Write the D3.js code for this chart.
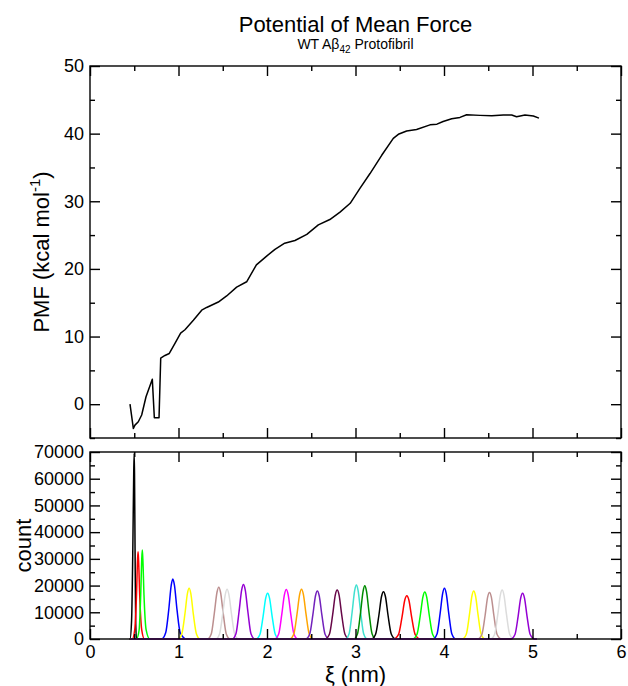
<!DOCTYPE html>
<html>
<head>
<meta charset="utf-8">
<script src="https://cdn.jsdelivr.net/npm/d3@7"></script>
<style>
  body { margin: 0; background: #fff; }
  svg { font-family: "Liberation Sans", Arial, sans-serif; }
</style>
</head>
<body>
<div id="chart"></div>
<script>
let width = 628,
    height = 686;

// ----- DATA -----
// PMF curve (nm, kcal/mol)
let pmfX = [0.452, 0.49, 0.508, 0.546, 0.584, 0.633, 0.704, 0.727, 0.78, 0.799, 0.847, 0.896,
            0.96, 1.024, 1.073, 1.168, 1.262, 1.318, 1.45, 1.544, 1.657, 1.77, 1.88, 1.996,
            2.09, 2.20, 2.316, 2.45, 2.58, 2.71, 2.825, 2.94, 3.05, 3.164, 3.296, 3.427,
            3.484, 3.578, 3.69, 3.842, 3.92, 3.99, 4.087, 4.18, 4.256, 4.407, 4.54, 4.67,
            4.765, 4.82, 4.915, 5.01, 5.073];
let pmfY = [0.0, -3.6, -3.1, -2.6, -1.6, 1.1, 3.7, -2.0, -2.0, 6.8, 7.2, 7.5,
            9.0, 10.5, 11.0, 12.4, 13.9, 14.3, 15.1, 16.0, 17.3, 18.1, 20.6, 21.9,
            22.9, 23.8, 24.2, 25.1, 26.5, 27.3, 28.4, 29.7, 31.9, 34.1, 36.8, 39.3,
            39.9, 40.4, 40.6, 41.3, 41.4, 41.8, 42.2, 42.4, 42.8, 42.7, 42.65, 42.75,
            42.75, 42.5, 42.75, 42.6, 42.3];

// umbrella window histograms: [xi, count]
let histograms = [
  [[0.452,0],[0.470,7000],[0.484,34000],[0.494,62000],[0.499,69500],[0.503,62000],[0.509,34000],[0.516,7000],[0.525,0]],
  [[0.478,0],[0.505,3300],[0.525,16000],[0.537,29500],[0.543,32700],[0.549,29500],[0.562,16000],[0.585,3300],[0.615,0]],
  [[0.525,0],[0.555,3300],[0.573,16500],[0.585,30000],[0.591,33300],[0.597,30000],[0.610,16500],[0.635,3300],[0.675,0]],
  [[0.81,0],[0.855,2300],[0.89,11000],[0.918,20200],[0.936,22500],[0.954,20200],[0.983,11000],[1.02,2300],[1.09,0]],
  [[0.995,0],[1.037,1900],[1.073,9500],[1.101,17100],[1.120,19000],[1.139,17100],[1.167,9500],[1.203,1900],[1.245,0]],
  [[1.325,0],[1.37,1900],[1.405,9700],[1.435,17500],[1.455,19400],[1.475,17500],[1.505,9700],[1.54,1900],[1.585,0]],
  [[1.42,0],[1.464,1900],[1.499,9300],[1.529,16700],[1.549,18600],[1.569,16700],[1.599,9300],[1.634,1900],[1.68,0]],
  [[1.605,0],[1.649,2000],[1.684,10200],[1.714,18400],[1.734,20400],[1.754,18400],[1.784,10200],[1.819,2000],[1.865,0]],
  [[1.875,0],[1.92,1700],[1.956,8500],[1.986,15400],[2.007,17100],[2.028,15400],[2.058,8500],[2.094,1700],[2.14,0]],
  [[2.085,0],[2.131,1800],[2.167,9200],[2.197,16600],[2.218,18500],[2.239,16600],[2.269,9200],[2.305,1800],[2.35,0]],
  [[2.255,0],[2.303,1900],[2.339,9300],[2.369,16700],[2.390,18600],[2.411,16700],[2.441,9300],[2.477,1900],[2.525,0]],
  [[2.435,0],[2.482,1800],[2.518,9000],[2.548,16200],[2.569,18000],[2.590,16200],[2.620,9000],[2.656,1800],[2.705,0]],
  [[2.655,0],[2.705,1800],[2.742,9100],[2.772,16500],[2.793,18300],[2.814,16500],[2.844,9100],[2.881,1800],[2.93,0]],
  [[2.885,0],[2.928,2000],[2.962,10100],[2.991,18200],[3.010,20200],[3.029,18200],[3.058,10100],[3.092,2000],[3.135,0]],
  [[2.98,0],[3.023,2000],[3.057,9900],[3.086,17900],[3.105,19900],[3.124,17900],[3.153,9900],[3.187,2000],[3.23,0]],
  [[3.18,0],[3.227,1800],[3.264,8800],[3.294,15900],[3.316,17700],[3.338,15900],[3.368,8800],[3.405,1800],[3.455,0]],
  [[3.43,0],[3.485,1600],[3.525,8100],[3.557,14600],[3.580,16200],[3.603,14600],[3.635,8100],[3.675,1600],[3.73,0]],
  [[3.645,0],[3.695,1800],[3.732,8800],[3.762,15800],[3.783,17600],[3.804,15800],[3.834,8800],[3.871,1800],[3.92,0]],
  [[3.875,0],[3.921,1900],[3.956,9500],[3.985,17100],[4.005,19000],[4.025,17100],[4.054,9500],[4.089,1900],[4.135,0]],
  [[4.205,0],[4.252,1800],[4.287,9000],[4.316,16200],[4.336,18000],[4.356,16200],[4.385,9000],[4.42,1800],[4.465,0]],
  [[4.38,0],[4.428,1700],[4.464,8700],[4.493,15700],[4.514,17400],[4.535,15700],[4.564,8700],[4.60,1700],[4.65,0]],
  [[4.525,0],[4.572,1800],[4.608,9200],[4.637,16500],[4.657,18300],[4.677,16500],[4.706,9200],[4.742,1800],[4.79,0]],
  [[4.755,0],[4.802,1700],[4.838,8600],[4.867,15400],[4.888,17100],[4.909,15400],[4.938,8600],[4.974,1700],[5.025,0]]
];
let histRange = [0.45, 5.05];

// xmgrace default colour cycle
let histColors = ["#000000", "#ff0000", "#00ff00", "#0000ff", "#ffff00", "#bc8f8f", "#dcdcdc",
                  "#9400d3", "#00ffff", "#ff00ff", "#ffa500", "#7221bc", "#670748", "#40e0d0", "#008b00"];

let xTicks = [0, 1, 2, 3, 4, 5, 6];
let pmfTicks = [0, 10, 20, 30, 40, 50];
let countTicks = [0, 10000, 20000, 30000, 40000, 50000, 60000, 70000];

// ----- LAYOUT -----
let left = 90, right = 621;
let top1 = 66, bottom1 = 438;
let top2 = 452, bottom2 = 639;

let svg = d3.select("#chart")
            .append("svg")
            .attr("width", width)
            .attr("height", height);

// ----- SCALES -----
let xScale = d3.scaleLinear().domain([0, 6]).range([left, right]);
let yPmf = d3.scaleLinear().domain([-5, 50]).range([bottom1, top1]);
let yCount = d3.scaleLinear().domain([0, 70000]).range([bottom2, top2]);

// draw inward ticks on all four sides of a box
function drawAxes(y, yTop, yBottom, yMajor, yMinor, showX) {
    let major = 10, minor = 5;
    let xMinor = d3.range(0.5, 6, 1);

    let g = svg.append("g").attr("class", "axes");

    g.append("g")
        .attr("transform", `translate(0,${yBottom})`)
        .call(d3.axisBottom(xScale).tickValues(xTicks).tickSize(-major).tickSizeOuter(0)
              .tickPadding(6).tickFormat(showX ? d3.format("d") : ""));
    g.append("g")
        .attr("transform", `translate(0,${yBottom})`)
        .call(d3.axisBottom(xScale).tickValues(xMinor).tickSize(-minor).tickSizeOuter(0).tickFormat(""));
    g.append("g")
        .attr("transform", `translate(0,${yTop})`)
        .call(d3.axisTop(xScale).tickValues(xTicks).tickSize(-major).tickSizeOuter(0).tickFormat(""));
    g.append("g")
        .attr("transform", `translate(0,${yTop})`)
        .call(d3.axisTop(xScale).tickValues(xMinor).tickSize(-minor).tickSizeOuter(0).tickFormat(""));

    g.append("g")
        .attr("transform", `translate(${left},0)`)
        .call(d3.axisLeft(y).tickValues(yMajor).tickSize(-major).tickSizeOuter(0)
              .tickPadding(6).tickFormat(d3.format("d")));
    g.append("g")
        .attr("transform", `translate(${left},0)`)
        .call(d3.axisLeft(y).tickValues(yMinor).tickSize(-minor).tickSizeOuter(0).tickFormat(""));
    g.append("g")
        .attr("transform", `translate(${right},0)`)
        .call(d3.axisRight(y).tickValues(yMajor).tickSize(-major).tickSizeOuter(0).tickFormat(""));
    g.append("g")
        .attr("transform", `translate(${right},0)`)
        .call(d3.axisRight(y).tickValues(yMinor).tickSize(-minor).tickSizeOuter(0).tickFormat(""));

    g.selectAll(".domain").remove();
    g.selectAll(".tick line").attr("stroke", "#000").attr("stroke-width", 1.4);
    g.selectAll(".tick text")
        .attr("fill", "#000")
        .style("font-size", "18px")
        .style("font-family", "'Liberation Sans', Arial, sans-serif");

    g.append("rect")
        .attr("x", left)
        .attr("y", yTop)
        .attr("width", right - left)
        .attr("height", yBottom - yTop)
        .attr("fill", "none")
        .attr("stroke", "#000")
        .attr("stroke-width", 1.4);
}

// ----- TOP PANEL: PMF -----
drawAxes(yPmf, top1, bottom1, pmfTicks, [-5, 5, 15, 25, 35, 45], false);

let pmfLine = d3.line()
    .x(d => xScale(d[0]))
    .y(d => yPmf(d[1]));

svg.append("path")
    .datum(pmfX.map((x, i) => [x, pmfY[i]]))
    .attr("d", pmfLine)
    .attr("fill", "none")
    .attr("stroke", "#000")
    .attr("stroke-width", 1.5)
    .attr("stroke-linejoin", "round");

// ----- BOTTOM PANEL: HISTOGRAMS -----
let histLine = d3.line()
    .x(d => xScale(d[0]))
    .y(d => yCount(d[1]))
    .curve(d3.curveMonotoneX);

histograms.forEach((h, i) => {
    let pts = [[histRange[0], 0]].concat(h, [[histRange[1], 0]]);
    svg.append("path")
        .datum(pts)
        .attr("d", histLine)
        .attr("fill", "none")
        .attr("stroke", histColors[i % histColors.length])
        .attr("stroke-width", 1.5);
});

drawAxes(yCount, top2, bottom2, countTicks,
         [5000, 15000, 25000, 35000, 45000, 55000, 65000], true);

// ----- TITLES AND LABELS -----
svg.append("text")
    .attr("x", (left + right) / 2)
    .attr("y", 32)
    .attr("text-anchor", "middle")
    .style("font-size", "22px")
    .text("Potential of Mean Force");

let sub = svg.append("text")
    .attr("x", (left + right) / 2)
    .attr("y", 49)
    .attr("text-anchor", "middle")
    .style("font-size", "14px");
sub.append("tspan").text("WT Aβ");
sub.append("tspan").attr("dy", 4).style("font-size", "10px").text("42");
sub.append("tspan").attr("dy", -4).text(" Protofibril");

let yLab = svg.append("text")
    .attr("transform", `translate(49,${(top1 + bottom1) / 2}) rotate(-90)`)
    .attr("text-anchor", "middle")
    .style("font-size", "22px");
yLab.append("tspan").text("PMF (kcal mol");
yLab.append("tspan").attr("dy", -9).style("font-size", "15px").text("-1");
yLab.append("tspan").attr("dy", 9).text(")");

svg.append("text")
    .attr("transform", `translate(31,${(top2 + bottom2) / 2}) rotate(-90)`)
    .attr("text-anchor", "middle")
    .style("font-size", "22px")
    .text("count");

svg.append("text")
    .attr("x", (left + right) / 2)
    .attr("y", 682)
    .attr("text-anchor", "middle")
    .style("font-size", "22px")
    .text("ξ (nm)");
</script>
</body>
</html>
